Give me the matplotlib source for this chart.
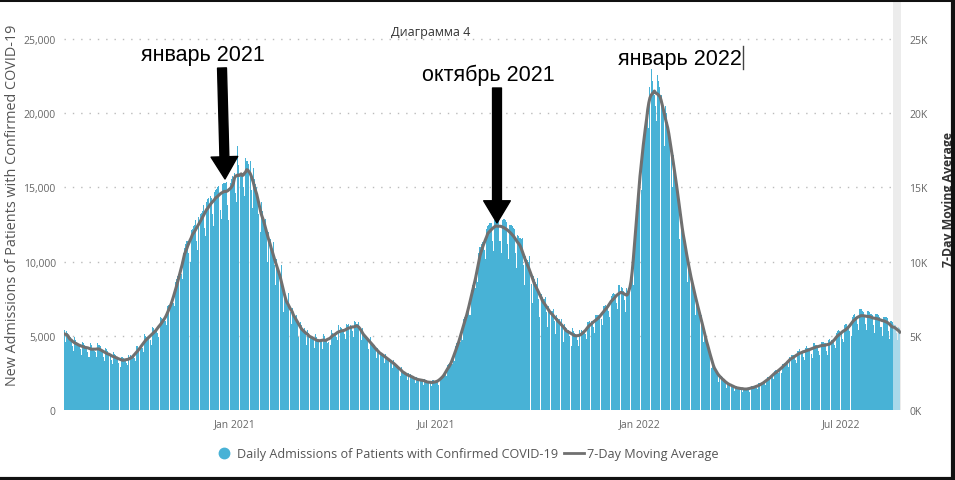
import matplotlib
matplotlib.use('Agg')
from matplotlib import pyplot as plt
from matplotlib.lines import Line2D
import matplotlib.dates as mdates
import numpy as np
import pandas as pd

# daily admissions in hundreds, one row per week starting Sat 2020-08-01
weeks_hundreds = [
    [54, 46, 53, 52, 50, 49, 47], [43, 40, 49, 47, 46, 45, 44], [41, 37, 46, 45, 44, 43, 42],
    [39, 36, 45, 44, 42, 41, 40], [39, 36, 45, 44, 43, 41, 40], [36, 33, 42, 41, 40, 38, 37],
    [34, 31, 39, 38, 37, 36, 35], [32, 29, 36, 36, 35, 34, 33], [32, 30, 37, 37, 36, 36, 36],
    [35, 33, 43, 43, 42, 42, 42], [42, 39, 51, 50, 49, 49, 49], [47, 44, 56, 55, 54, 54, 54],
    [52, 49, 63, 62, 61, 60, 61], [60, 57, 70, 71, 72, 73, 73], [72, 70, 86, 88, 90, 92, 90],
    [92, 88, 106, 109, 112, 114, 114], [106, 100, 121, 122, 124, 125, 128],
    [114, 108, 130, 132, 133, 134, 138], [123, 117, 140, 142, 143, 144, 143],
    [132, 124, 147, 148, 149, 150, 151], [135, 129, 152, 153, 153, 153, 154],
    [138, 128, 153, 156, 158, 157, 160], [146, 140, 178, 165, 160, 160, 157],
    [150, 144, 170, 168, 168, 166, 168], [148, 136, 163, 156, 152, 150, 145],
    [132, 120, 140, 134, 129, 126, 129], [118, 100, 120, 115, 110, 108, 113],
    [98, 84, 102, 97, 94, 92, 98], [82, 66, 80, 76, 72, 70, 79], [66, 58, 69, 66, 63, 62, 64],
    [58, 49, 59, 57, 54, 53, 55], [52, 44, 54, 52, 50, 49, 49], [48, 42, 51, 49, 47, 46, 46],
    [47, 41, 51, 50, 48, 47, 45], [46, 44, 54, 52, 51, 52, 51], [49, 47, 57, 56, 55, 54, 53],
    [51, 48, 58, 57, 58, 57, 56], [53, 49, 60, 59, 58, 58, 59], [54, 47, 55, 52, 50, 49, 50],
    [48, 41, 49, 46, 44, 43, 44], [42, 35, 42, 40, 38, 38, 38], [37, 32, 38, 36, 34, 34, 34],
    [33, 28, 34, 32, 30, 30, 30], [28, 23, 29, 27, 26, 25, 24], [24, 20, 25, 24, 23, 22, 23],
    [21, 18, 22, 21, 21, 20, 21], [20, 17, 21, 20, 20, 19, 18], [18, 16, 20, 20, 19, 19, 19],
    [19, 17, 22, 22, 23, 23, 24], [24, 23, 30, 31, 32, 32, 31], [34, 33, 43, 45, 46, 47, 46],
    [50, 47, 61, 63, 64, 64, 64], [68, 64, 81, 84, 86, 88, 82],
    [90, 86, 106, 110, 112, 113, 111], [108, 102, 122, 124, 125, 126, 126],
    [114, 107, 128, 129, 130, 130, 130], [114, 106, 128, 129, 129, 128, 127],
    [112, 102, 125, 125, 124, 123, 122], [106, 96, 118, 117, 116, 115, 116],
    [98, 84, 104, 102, 101, 100, 104], [85, 72, 90, 88, 86, 85, 89], [75, 63, 78, 76, 75, 75, 76],
    [66, 56, 70, 68, 67, 67, 68], [60, 51, 64, 62, 61, 61, 61], [55, 46, 58, 56, 55, 54, 54],
    [50, 43, 55, 53, 52, 51, 50], [47, 43, 54, 54, 53, 53, 53], [51, 48, 59, 59, 60, 60, 59],
    [56, 52, 64, 64, 64, 64, 63], [61, 57, 70, 70, 71, 70, 70], [67, 63, 77, 78, 79, 78, 76],
    [72, 68, 84, 84, 83, 82, 80], [74, 66, 82, 80, 80, 80, 84],
    [90, 84, 110, 125, 138, 145, 150], [155, 148, 180, 185, 190, 192, 200],
    [198, 190, 218, 230, 222, 215, 212], [205, 195, 226, 222, 218, 212, 206],
    [200, 178, 205, 200, 194, 190, 186], [178, 150, 172, 166, 160, 156, 150],
    [140, 115, 132, 126, 120, 116, 112], [106, 86, 100, 96, 91, 88, 85],
    [80, 64, 76, 72, 69, 66, 64], [60, 46, 54, 50, 47, 45, 43], [38, 28, 34, 31, 29, 27, 25],
    [24, 19, 24, 23, 22, 21, 20], [18, 15, 19, 18, 18, 17, 17], [15, 13, 16, 16, 15, 15, 15],
    [14, 12, 15, 15, 15, 14, 14], [14, 12, 16, 16, 16, 16, 15], [15, 14, 18, 18, 18, 18, 18],
    [18, 17, 21, 22, 22, 22, 22], [22, 21, 26, 27, 27, 27, 25], [26, 25, 31, 31, 32, 31, 31],
    [31, 29, 36, 37, 37, 37, 35], [34, 32, 40, 40, 41, 40, 39], [36, 34, 42, 43, 42, 42, 41],
    [38, 35, 45, 45, 44, 44, 43], [40, 37, 46, 46, 46, 45, 45], [40, 37, 47, 48, 47, 46, 47],
    [44, 42, 52, 53, 54, 53, 52], [48, 46, 57, 58, 58, 56, 55], [53, 50, 63, 64, 65, 63, 62],
    [58, 54, 68, 68, 67, 66, 64], [58, 54, 67, 67, 66, 65, 64], [57, 52, 65, 65, 65, 64, 63],
    [56, 50, 63, 63, 63, 63, 62], [53, 48, 60, 59, 58, 57, 57], [52, 47, 56, 55],
]
start_date = '2020-08-01'
n_incomplete = 7  # last days drawn pale (incomplete reporting)

left_ticks = [0, 5000, 10000, 15000, 20000, 25000]
left_labels = ['0', '5,000', '10,000', '15,000', '20,000', '25,000']
right_labels = ['0K', '5K', '10K', '15K', '20K', '25K']
x_ticks = ['2021-01-01', '2021-07-01', '2022-01-01', '2022-07-01']

annotations = ['январь 2021', 'октябрь 2021', 'январь 2022']

daily = np.array([v for w in weeks_hundreds for v in w]) * 100
dates = pd.date_range(start_date, periods=len(daily), freq='D')
s = pd.Series(daily, index=dates)
avg = s.rolling(7, center=True, min_periods=1).mean()

bar_c = '#48B2D6'
pale_c = '#A9D8EA'
line_c = '#707070'
tick_c = '#666666'
ui_font = ['Open Sans', 'DejaVu Sans']

fig = plt.figure(figsize=(9.55, 4.81), dpi=100)
ax = fig.add_axes([64 / 955, 1 - 411 / 481, (901 - 64) / 955, (411 - 3) / 481])

colors = [bar_c] * (len(daily) - n_incomplete) + [pale_c] * n_incomplete
ax.bar(dates, daily, width=0.92, color=colors, linewidth=0, zorder=2)
ax.axvspan(dates[-n_incomplete] - pd.Timedelta(hours=12), dates[-1] + pd.Timedelta(days=1),
           color='#ececec', zorder=1.5, lw=0)
ax.plot(dates, avg.values, color=line_c, lw=2.2, zorder=3)

ax.set_xlim(dates[0] - pd.Timedelta(hours=12), dates[-1] + pd.Timedelta(days=1))
ax.set_ylim(0, 27500)
ax.set_yticks(left_ticks)
ax.set_yticklabels(left_labels)
ax.yaxis.grid(True, linestyle=(0, (1, 5)), color='#bbbbbb', lw=1, zorder=1)
ax.set_axisbelow(True)
ax.set_xticks(pd.to_datetime(x_ticks))
ax.xaxis.set_major_formatter(mdates.DateFormatter('%b %Y'))
ax.tick_params(length=0, labelsize=7.5, colors=tick_c, pad=6)
for lab in ax.get_xticklabels() + ax.get_yticklabels():
    lab.set_family(ui_font)
for sp in ax.spines.values():
    sp.set_visible(False)
ax.set_ylabel('New Admissions of Patients with Confirmed COVID-19', fontsize=10.4,
              color='#555555', family=ui_font)
ax.yaxis.set_label_coords(-44 / 837, (411 - 205) / 408, transform=ax.transAxes)

ax2 = ax.twinx()
ax2.set_ylim(0, 27500)
ax2.set_yticks(left_ticks)
ax2.set_yticklabels(right_labels)
ax2.tick_params(length=0, labelsize=7.5, colors=tick_c, pad=6)
for lab in ax2.get_yticklabels():
    lab.set_family(ui_font)
for sp in ax2.spines.values():
    sp.set_visible(False)
ax2.set_ylabel('7-Day Moving Average', fontsize=8.8, color='#333333', family=ui_font,
               fontweight='bold')
ax2.yaxis.set_label_coords((942 - 64) / 837, (411 - 200) / 408, transform=ax2.transAxes)

fig.text(431 / 955, 1 - 33 / 481, 'Диаграмма 4', ha='center', va='center', fontsize=9,
         color='#333333', family=ui_font)

ann_font = ['Liberation Sans', 'DejaVu Sans']
fig.text(203 / 955, 1 - 55 / 481, annotations[0], ha='center', va='center', fontsize=15.5,
         family=ann_font, color='black')
fig.text(488 / 955, 1 - 75 / 481, annotations[1], ha='center', va='center', fontsize=15.5,
         family=ann_font, color='black')
fig.text(680 / 955, 1 - 60 / 481, annotations[2], ha='center', va='center', fontsize=15.5,
         family=ann_font, color='black')
fig.add_artist(Line2D([743 / 955, 743 / 955], [1 - 47 / 481, 1 - 70 / 481], color='#444444', lw=1))

arrow = dict(arrowstyle='simple,head_width=1.2,head_length=1.0,tail_width=0.4',
             color='black', mutation_scale=16, shrinkA=0, shrinkB=0)
ax.annotate('', xy=(225 / 955, 1 - 180 / 481), xytext=(222 / 955, 1 - 69 / 481),
            xycoords='figure fraction', textcoords='figure fraction', arrowprops=arrow, zorder=5)
ax.annotate('', xy=(497 / 955, 1 - 224 / 481), xytext=(497 / 955, 1 - 89 / 481),
            xycoords='figure fraction', textcoords='figure fraction', arrowprops=arrow, zorder=5)

handles = [Line2D([], [], marker='o', ls='', color=bar_c, markersize=7.5),
           Line2D([], [], color=line_c, lw=2)]
fig.legend(handles, ['Daily Admissions of Patients with Confirmed COVID-19', '7-Day Moving Average'],
           loc='center', bbox_to_anchor=(466 / 955, 1 - 455 / 481), ncol=2, frameon=False,
           prop={'family': ui_font, 'size': 9.1}, labelcolor='#555555', handlelength=1.6,
           handletextpad=0.2, columnspacing=0.5)

# screenshot border
fig.add_artist(Line2D([0, 1], [0.998, 0.998], color='#111111', lw=2.2))
fig.add_artist(Line2D([0, 1], [0.003, 0.003], color='#111111', lw=3))
fig.add_artist(Line2D([0.9975, 0.9975], [0, 1], color='#111111', lw=3))

fig.savefig('out.png', dpi=100)
